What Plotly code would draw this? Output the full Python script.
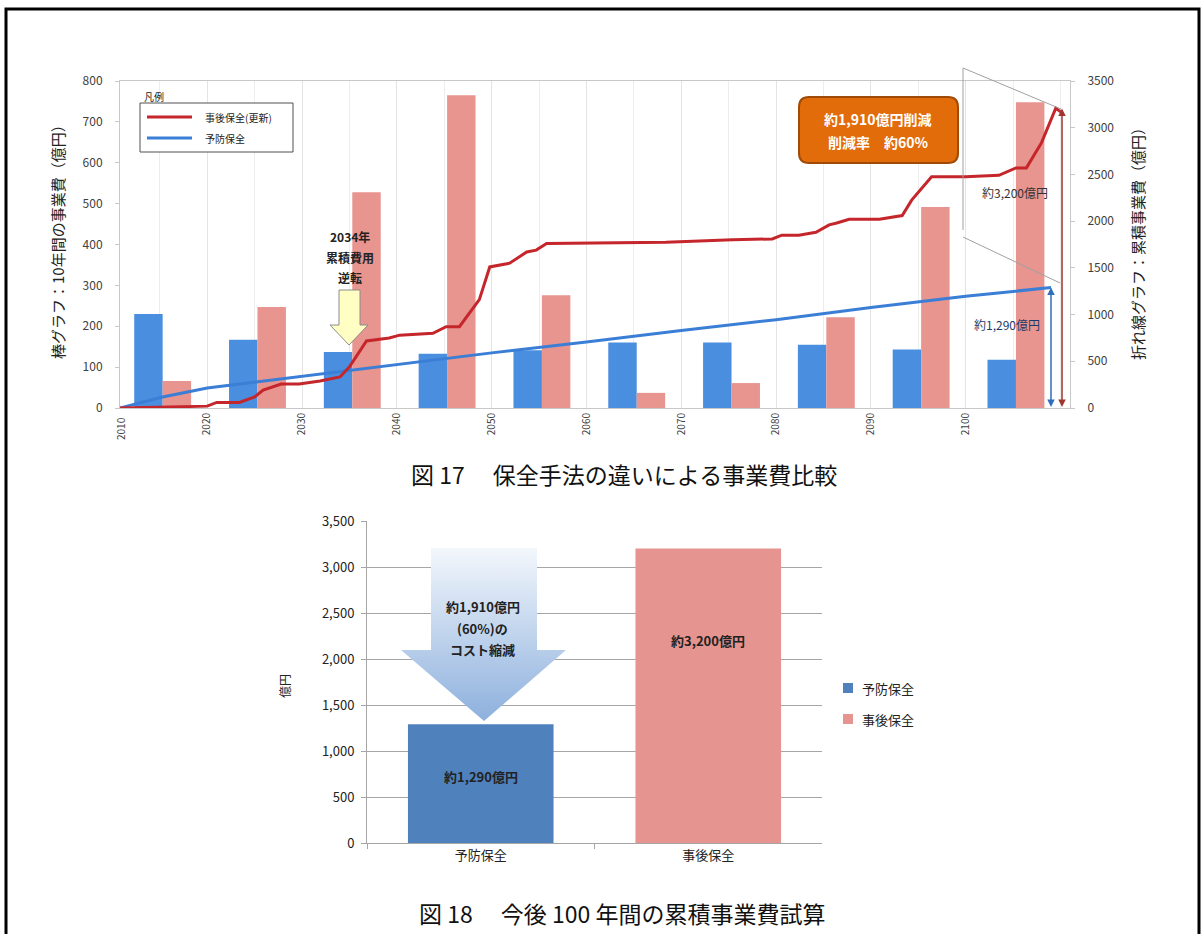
import plotly.graph_objects as go

W, H = 1202, 934
FONT = "Noto Sans CJK JP"

# ---------------- data ----------------
decade_mid = [2015, 2025, 2035, 2045, 2055, 2065, 2075, 2085, 2095, 2105]
preventive_10yr = [230, 167, 137, 133, 141, 160, 160, 155, 143, 118]
corrective_10yr = [66, 247, 528, 765, 276, 37, 61, 222, 492, 748]

corrective_cum_year = [2010.8, 2018.2, 2020.0, 2021.0, 2023.4, 2025.0, 2025.9, 2027.8, 2029.7,
                       2031.9, 2034.0, 2035.0, 2036.8, 2039.2, 2040.3, 2043.8, 2045.2, 2046.6,
                       2047.7, 2048.7, 2049.8, 2051.9, 2053.7, 2054.7, 2055.8, 2061.4, 2068.4,
                       2075.4, 2079.6, 2080.6, 2082.4, 2084.2, 2085.6, 2086.4, 2087.7, 2090.9,
                       2093.3, 2094.3, 2096.4, 2100.0, 2103.5, 2105.3, 2106.4, 2108.0, 2109.0,
                       2109.5, 2110.0]
corrective_cum = [0, 10, 20, 60, 60, 118, 193, 257, 257, 290, 332, 440, 717, 750, 780, 800, 870,
                  870, 1020, 1160, 1510, 1550, 1670, 1690, 1760, 1770, 1775, 1800, 1810, 1850,
                  1850, 1880, 1960, 1980, 2020, 2020, 2060, 2225, 2475, 2475, 2490, 2570, 2570,
                  2840, 3100, 3210, 3170]

preventive_cum_year = [2010.8, 2015.3, 2020, 2030, 2040, 2050, 2060, 2070, 2080, 2090, 2100, 2109]
preventive_cum = [0, 118, 214, 342, 465, 590, 706, 830, 945, 1075, 1195, 1290]

year_ticks = [2020, 2030, 2040, 2050, 2060, 2070, 2080, 2090, 2100]

total_labels = ["予防保全", "事後保全"]
total_vals = [1290, 3200]

# colours
BAR_BLUE = "#4A8EE0"
BAR_PINK = "#E8948F"
LINE_RED = "#C4262B"
LINE_BLUE = "#3A7ED6"
TOT_BLUE = "#4F81BD"
TOT_PINK = "#E6948F"


def px(x):
    return x / W


def py(y):
    return 1 - y / H


fig = go.Figure()

# ---------------- top chart ----------------
fig.add_trace(go.Bar(x=decade_mid, y=preventive_10yr, width=3.0, offset=-2.7,
                     marker=dict(color=BAR_BLUE, line=dict(width=0)),
                     xaxis="x", yaxis="y", showlegend=False))
fig.add_trace(go.Bar(x=decade_mid, y=corrective_10yr, width=3.0, offset=0.3,
                     marker=dict(color=BAR_PINK, line=dict(width=0)),
                     xaxis="x", yaxis="y", showlegend=False))
fig.add_trace(go.Scatter(x=preventive_cum_year, y=preventive_cum, mode="lines",
                         line=dict(color=LINE_BLUE, width=3),
                         xaxis="x", yaxis="y2", showlegend=False))
fig.add_trace(go.Scatter(x=corrective_cum_year, y=corrective_cum, mode="lines",
                         line=dict(color=LINE_RED, width=3),
                         xaxis="x", yaxis="y2", showlegend=False))

# ---------------- bottom chart ----------------
fig.add_trace(go.Bar(x=[total_labels[0]], y=[total_vals[0]], width=0.64, offset=-0.32,
                     marker=dict(color=TOT_BLUE, line=dict(width=0)),
                     xaxis="x3", yaxis="y3", showlegend=False))
fig.add_trace(go.Bar(x=[total_labels[1]], y=[total_vals[1]], width=0.64, offset=-0.32,
                     marker=dict(color=TOT_PINK, line=dict(width=0)),
                     xaxis="x3", yaxis="y3", showlegend=False))

# ---------------- decorative arrows on a pixel overlay ----------------
fig.add_trace(go.Scatter(
    x=[431, 537, 537, 566, 484, 401, 431, 431],
    y=[548, 548, 650, 650, 721, 650, 650, 548],
    mode="lines", line=dict(width=0), fill="toself",
    fillgradient=dict(type="vertical", colorscale=[[0, "#8DB0DD"], [1, "#F3F7FC"]]),
    xaxis="x4", yaxis="y4", showlegend=False, hoverinfo="skip"))
fig.add_trace(go.Scatter(
    x=[339, 360, 360, 368, 349, 330, 339, 339],
    y=[290, 290, 325, 325, 345, 325, 325, 290],
    mode="lines", line=dict(width=1, color="#8C8C8C"), fill="toself",
    fillcolor="#FFFFC4",
    xaxis="x4", yaxis="y4", showlegend=False, hoverinfo="skip"))

tick_font = dict(family=FONT, size=12, color="#404040")

fig.update_layout(
    width=W, height=H,
    margin=dict(l=0, r=0, t=0, b=0, pad=0, autoexpand=False),
    paper_bgcolor="white", plot_bgcolor="rgba(0,0,0,0)",
    barmode="overlay",
    font=dict(family=FONT, color="#222"),
    showlegend=False,
    xaxis=dict(domain=[px(120), px(1070)], range=[2010.8, 2111], anchor="y",
               tickvals=year_ticks, tickangle=-90, ticks="", automargin=False,
               tickfont=dict(family=FONT, size=10, color="#404040"),
               showgrid=True, gridcolor="#E4E4E4", gridwidth=1,
               minor=dict(tick0=2010, dtick=5, showgrid=True, gridcolor="#EDEDED"),
               showline=True, linecolor="#C8C8C8", mirror=True, zeroline=False),
    yaxis=dict(domain=[py(408), py(81)], range=[0, 800], dtick=100, anchor="x",
               showgrid=False, zeroline=False, ticks="outside", ticklen=4, automargin=False,
               tickcolor="#C8C8C8", ticklabelstandoff=10, tickfont=tick_font,
               showline=True, linecolor="#C8C8C8", mirror=True),
    yaxis2=dict(range=[0, 3500], dtick=500, overlaying="y", side="right", anchor="x",
                showgrid=False, zeroline=False, ticks="outside", ticklen=4, automargin=False,
                tickcolor="#C8C8C8", ticklabelstandoff=10, tickfont=tick_font,
                showline=False),
    xaxis3=dict(domain=[px(367), px(822)], range=[-0.5, 1.5], type="category", anchor="y3",
                showline=True, linecolor="#A6A6A6", ticks="outside", tickson="boundaries",
                ticklen=5, tickcolor="#A6A6A6", automargin=False,
                tickfont=dict(family=FONT, size=13, color="#222"), showgrid=False),
    yaxis3=dict(domain=[py(843), py(521)], range=[0, 3500], dtick=500, tickformat=",",
                anchor="x3", showgrid=True, gridcolor="#A6A6A6", gridwidth=1,
                zeroline=False, showline=True, linecolor="#A6A6A6", ticks="outside",
                ticklen=5, tickcolor="#A6A6A6", ticklabelstandoff=4, automargin=False,
                tickfont=dict(family=FONT, size=13, color="#222")),
    xaxis4=dict(domain=[0, 1], range=[0, W], visible=False, anchor="y4", fixedrange=True,
                automargin=False),
    yaxis4=dict(domain=[0, 1], range=[H, 0], visible=False, anchor="x4", fixedrange=True,
                automargin=False),
)

shapes = []
# page frame
shapes.append(dict(type="rect", xref="paper", yref="paper", x0=px(6), x1=px(1199),
                   y0=py(950), y1=py(9), line=dict(color="black", width=3)))
# top legend box and lines
shapes.append(dict(type="rect", xref="paper", yref="paper", x0=px(140), x1=px(293),
                   y0=py(152), y1=py(103), line=dict(color="#505050", width=1),
                   fillcolor="white"))
shapes.append(dict(type="line", xref="paper", yref="paper", x0=px(147), x1=px(192),
                   y0=py(117), y1=py(117), line=dict(color=LINE_RED, width=3)))
shapes.append(dict(type="line", xref="paper", yref="paper", x0=px(147), x1=px(192),
                   y0=py(138), y1=py(138), line=dict(color=LINE_BLUE, width=3)))
# orange callout box (rounded)
bx0, bx1, by0, by1, r = 799, 958, 97, 163, 10
path = (f"M {px(bx0 + r)},{py(by0)} L {px(bx1 - r)},{py(by0)} "
        f"Q {px(bx1)},{py(by0)} {px(bx1)},{py(by0 + r)} L {px(bx1)},{py(by1 - r)} "
        f"Q {px(bx1)},{py(by1)} {px(bx1 - r)},{py(by1)} L {px(bx0 + r)},{py(by1)} "
        f"Q {px(bx0)},{py(by1)} {px(bx0)},{py(by1 - r)} L {px(bx0)},{py(by0 + r)} "
        f"Q {px(bx0)},{py(by0)} {px(bx0 + r)},{py(by0)} Z")
shapes.append(dict(type="path", xref="paper", yref="paper", path=path,
                   fillcolor="#E36C0A", line=dict(color="#A04A08", width=2)))
# grey bracket lines near the right end
for (x0, y0, x1, y1) in [(963, 68, 963, 230), (963, 68, 1061, 109), (963, 237, 1060, 283)]:
    shapes.append(dict(type="line", xref="paper", yref="paper", x0=px(x0), x1=px(x1),
                       y0=py(y0), y1=py(y1), line=dict(color="#A0A0A0", width=1)))
# bottom legend squares
shapes.append(dict(type="rect", xref="paper", yref="paper", x0=px(843), x1=px(853),
                   y0=py(693), y1=py(683), fillcolor=TOT_BLUE, line=dict(width=0)))
shapes.append(dict(type="rect", xref="paper", yref="paper", x0=px(843), x1=px(853),
                   y0=py(724), y1=py(714), fillcolor=TOT_PINK, line=dict(width=0)))
fig.update_layout(shapes=shapes)

ann = []


def text(x, y, s, size=12, color="#222", bold=False, xanchor="center", angle=0):
    if bold:
        s = f"<b>{s}</b>"
    ann.append(dict(x=px(x), y=py(y), xref="paper", yref="paper", text=s, showarrow=False,
                    xanchor=xanchor, yanchor="middle", textangle=angle,
                    font=dict(family=FONT, size=size, color=color)))


# axis titles
text(58, 238, "棒グラフ：10年間の事業費（億円）", size=15, angle=-90)
text(1138, 240, "折れ線グラフ：累積事業費（億円）", size=15, angle=-90)
text(120, 429, "2010", size=10, color="#404040", angle=-90)
# top legend
text(142, 96, "凡例", size=10, xanchor="left")
text(203, 117, "事後保全(更新)", size=10, xanchor="left")
text(203, 138, "予防保全", size=10, xanchor="left")
# reversal note
text(350, 236, "2034年", size=12, bold=True)
text(350, 257, "累積費用", size=12, bold=True)
text(350, 277, "逆転", size=12, bold=True)
# orange box
text(878, 119, "約1,910億円削減", size=14, color="white", bold=True)
text(878, 142, "削減率　約60%", size=14, color="white", bold=True)
# value labels
text(1015, 192, "約3,200億円", size=12, color="#333")
text(1007, 325, "約1,290億円", size=12, color="#1F3A68")
# captions
text(624, 474, "図 17　 保全手法の違いによる事業費比較", size=23, color="#111")
text(622, 913, "図 18　 今後 100 年間の累積事業費試算", size=23, color="#111")
# bottom chart texts
text(284, 686, "億円", size=12, angle=-90)
text(483, 606, "約1,910億円", size=13, bold=True)
text(483, 628, "(60%)の", size=13, bold=True)
text(483, 649, "コスト縮減", size=13, bold=True)
text(481, 776, "約1,290億円", size=13, bold=True)
text(708, 640, "約3,200億円", size=13, bold=True)
text(860, 688, "予防保全", size=13, xanchor="left")
text(860, 719, "事後保全", size=13, xanchor="left")

# double-headed dimension arrows (pixel overlay axes)
for (x, y0, y1, col) in [(1051, 286, 407, "#2F6EBA"), (1062, 107, 407, "#A0352E")]:
    ann.append(dict(x=x, y=y1, ax=x, ay=y0, xref="x4", yref="y4",
                    axref="x4", ayref="y4", text="", showarrow=True,
                    arrowhead=2, arrowside="end+start", arrowsize=1, arrowwidth=1.5,
                    arrowcolor=col))

fig.update_layout(annotations=ann)

fig.write_html("out.html")
